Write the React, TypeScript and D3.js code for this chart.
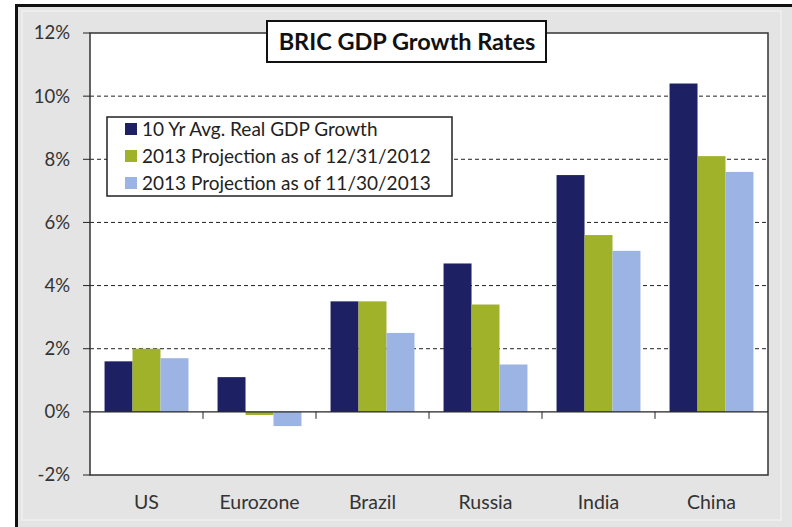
import React from "react";
import * as d3 from "d3";

const categories = ["US", "Eurozone", "Brazil", "Russia", "India", "China"];
const seriesNames = [
  "10 Yr Avg. Real GDP Growth",
  "2013 Projection as of 12/31/2012",
  "2013 Projection as of 11/30/2013",
];
const avg10yr = [1.6, 1.1, 3.5, 4.7, 7.5, 10.4];
const proj2012 = [2.0, -0.1, 3.5, 3.4, 5.6, 8.1];
const proj2013 = [1.7, -0.45, 2.5, 1.5, 5.1, 7.6];
const seriesColors = ["#1d2163", "#9fb22a", "#9cb4e4"];
const yTicks = [-2, 0, 2, 4, 6, 8, 10, 12];
const gridTicks = [2, 4, 6, 8, 10];
const title = "BRIC GDP Growth Rates";

const W = 792;
const H = 527;
const plot = { left: 90, top: 33, right: 768, bottom: 475 };
const FONT = "Lato, 'Open Sans', sans-serif";

export default function App() {
  const values = [avg10yr, proj2012, proj2013];
  const x = d3
    .scaleBand<string>()
    .domain(categories)
    .range([plot.left, plot.right])
    .paddingInner(0)
    .paddingOuter(0);
  const inner = d3
    .scaleBand<number>()
    .domain([0, 1, 2])
    .range([0, x.bandwidth()])
    .paddingInner(0)
    .paddingOuter(0.52);
  const y = d3.scaleLinear().domain([-2, 12]).range([plot.bottom, plot.top]);
  const fmt = (v: number) => `${v}%`;

  return (
    <svg
      width={W}
      height={H}
      style={{ position: "absolute", left: 0, top: 0, display: "block" }}
    >
      <rect x={0} y={0} width={W} height={H} fill="#ffffff" />
      <rect x={17} y={6} width={W} height={H} fill="#e4e4e4" />
      <rect x={22} y={11} width={759} height={509} fill="none" stroke="#efefef" strokeWidth={1.5} />
      <line x1={16.5} y1={5} x2={16.5} y2={H} stroke="#111" strokeWidth={3} />
      <line x1={15} y1={5.5} x2={W} y2={5.5} stroke="#111" strokeWidth={3} />

      {/* plot area */}
      <rect
        x={plot.left}
        y={plot.top}
        width={plot.right - plot.left}
        height={plot.bottom - plot.top}
        fill="#ffffff"
      />
      {gridTicks.map((t) => (
        <line
          key={t}
          x1={plot.left}
          x2={plot.right}
          y1={y(t)}
          y2={y(t)}
          stroke="#222"
          strokeWidth={1}
          strokeDasharray="4,3"
        />
      ))}

      {/* bars */}
      {categories.map((c, ci) =>
        values.map((vals, si) => {
          const v = vals[ci];
          const bx = (x(c) as number) + (inner(si) as number);
          return (
            <rect
              key={`${c}-${si}`}
              x={bx}
              y={Math.min(y(v), y(0))}
              width={inner.bandwidth()}
              height={Math.abs(y(v) - y(0))}
              fill={seriesColors[si]}
            />
          );
        })
      )}

      {/* plot border */}
      <rect
        x={plot.left}
        y={plot.top}
        width={plot.right - plot.left}
        height={plot.bottom - plot.top}
        fill="none"
        stroke="#333"
        strokeWidth={1.5}
      />
      {/* y axis ticks */}
      {yTicks.map((t) => (
        <g key={t}>
          <line
            x1={plot.left - 7}
            x2={plot.left}
            y1={y(t)}
            y2={y(t)}
            stroke="#222"
            strokeWidth={1}
          />
          <text
            x={70}
            y={y(t)}
            dy="0.35em"
            textAnchor="end"
            fontFamily={FONT}
            fontSize={18.5}
            fill="#333"
          >
            {fmt(t)}
          </text>
        </g>
      ))}
      {/* zero axis line */}
      <line
        x1={plot.left}
        x2={plot.right}
        y1={y(0)}
        y2={y(0)}
        stroke="#222"
        strokeWidth={1.2}
      />
      {categories.slice(1).map((c) => (
        <line
          key={c}
          x1={x(c) as number}
          x2={x(c) as number}
          y1={y(0)}
          y2={y(0) + 7}
          stroke="#222"
          strokeWidth={1}
        />
      ))}
      {/* category labels */}
      {categories.map((c) => (
        <text
          key={c}
          x={(x(c) as number) + x.bandwidth() / 2}
          y={502}
          dy="0.35em"
          textAnchor="middle"
          fontFamily={FONT}
          fontSize={19.5}
          fill="#333"
        >
          {c}
        </text>
      ))}

      {/* title box */}
      <rect x={267} y={21} width={279} height={41} fill="#fff" stroke="#111" strokeWidth={2} />
      <text
        x={407}
        y={41.5}
        dy="0.35em"
        textAnchor="middle"
        fontFamily={FONT}
        fontWeight="bold"
        fontSize={23.5}
        fill="#111"
      >
        {title}
      </text>

      {/* legend */}
      <rect x={107} y={117} width={345} height={79} fill="#fff" stroke="#222" strokeWidth={1.5} />
      {seriesNames.map((n, i) => (
        <g key={n}>
          <rect x={125} y={123 + i * 27} width={12} height={12} fill={seriesColors[i]} />
          <text
            x={142}
            y={129.5 + i * 27}
            dy="0.35em"
            fontFamily={FONT}
            fontSize={19}
            fill="#222"
          >
            {n}
          </text>
        </g>
      ))}
    </svg>
  );
}
